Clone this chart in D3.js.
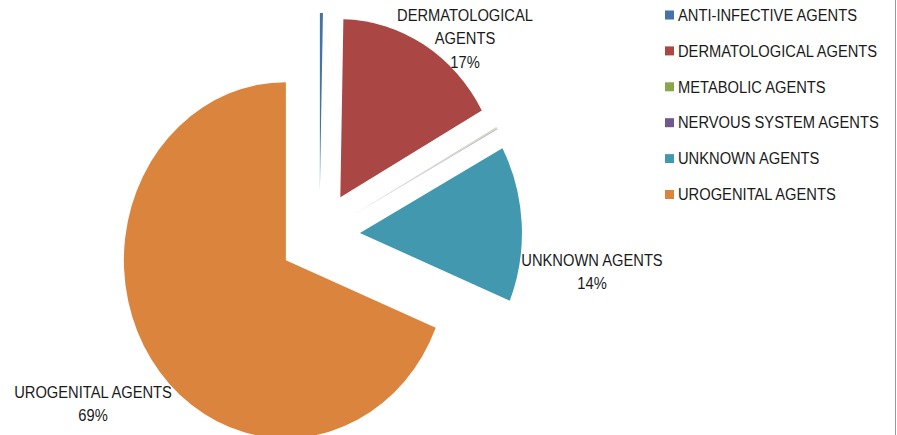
<!DOCTYPE html>
<html>
<head>
<meta charset="utf-8">
<script src="https://cdn.jsdelivr.net/npm/d3@7/dist/d3.min.js"></script>
<style>
  body { margin: 0; background: #fff; }
  text { font-family: "Liberation Sans", Arial, sans-serif; fill: #1a1a1a; }
</style>
</head>
<body>
<svg id="chart" width="897" height="435"></svg>
<script>
const categories = ["ANTI-INFECTIVE AGENTS", "DERMATOLOGICAL AGENTS", "METABOLIC AGENTS",
                    "NERVOUS SYSTEM AGENTS", "UNKNOWN AGENTS", "UROGENITAL AGENTS"];
const values = [3, 166, 1, 1, 141, 688];
const colors = ["#4572A7", "#AA4643", "#89A54E", "#71588F", "#4198AF", "#DB843D"];
// which slices get a data label, and its text lines
const labelled = [1, 4, 5];
const labelLines = {1: ["DERMATOLOGICAL", "AGENTS"], 4: ["UNKNOWN AGENTS"], 5: ["UROGENITAL AGENTS"]};

const width = 897, height = 435;
const cx = 319.5, cy = 235.4;
const rx = 162, ry = 178;   // picture is a bit stretched vertically
const R = 100;
const explode = 0.25 * R;
const textScale = 0.92;
const fontSize = "16px";

const svg = d3.select("#chart");

// right border of the chart area
svg.append("line")
  .attr("x1", width - 1.5).attr("x2", width - 1.5)
  .attr("y1", 0).attr("y2", height)
  .attr("stroke", "#999").attr("stroke-width", 1);

const pie = d3.pie().sort(null).value(d => d);
const arcs = pie(values);
const arc = d3.arc().innerRadius(0).outerRadius(R);

const g = svg.append("g")
  .attr("transform", `translate(${cx},${cy}) scale(${rx / R},${ry / R})`);

g.selectAll("path")
  .data(arcs)
  .enter().append("path")
    .attr("d", arc)
    .attr("fill", (d, i) => colors[i])
    .attr("fill-opacity", (d, i) => values[i] / d3.sum(values) < 0.002 ? 0.45 : 1)
    .attr("transform", d => {
      const mid = (d.startAngle + d.endAngle) / 2;
      return `translate(${explode * Math.sin(mid)},${-explode * Math.cos(mid)})`;
    });

// data labels
const total = d3.sum(values);
const labelPos = {1: [465, 15], 4: [592, 260], 5: [93, 392]};
const lineH = 23.5;

labelled.forEach(function(i) {
  const lines = labelLines[i].concat([Math.round(values[i] / total * 100) + "%"]);
  const p = labelPos[i];
  lines.forEach(function(t, k) {
    svg.append("text")
      .attr("transform", `translate(${p[0]},${p[1] + k * lineH}) scale(${textScale},1)`)
      .attr("text-anchor", "middle")
      .attr("dominant-baseline", "central")
      .attr("font-size", fontSize)
      .text(t);
  });
});

// legend
const legendX = 665, legendY = 15, legendStep = 35.9;
const legend = svg.append("g");
categories.forEach(function(c, i) {
  const y = legendY + i * legendStep;
  legend.append("rect")
    .attr("x", legendX).attr("y", y - 4.5)
    .attr("width", 9).attr("height", 9)
    .attr("fill", colors[i]);
  legend.append("text")
    .attr("transform", `translate(${legendX + 13},${y}) scale(${textScale},1)`)
    .attr("dominant-baseline", "central")
    .attr("font-size", fontSize)
    .text(c);
});
</script>
</body>
</html>
